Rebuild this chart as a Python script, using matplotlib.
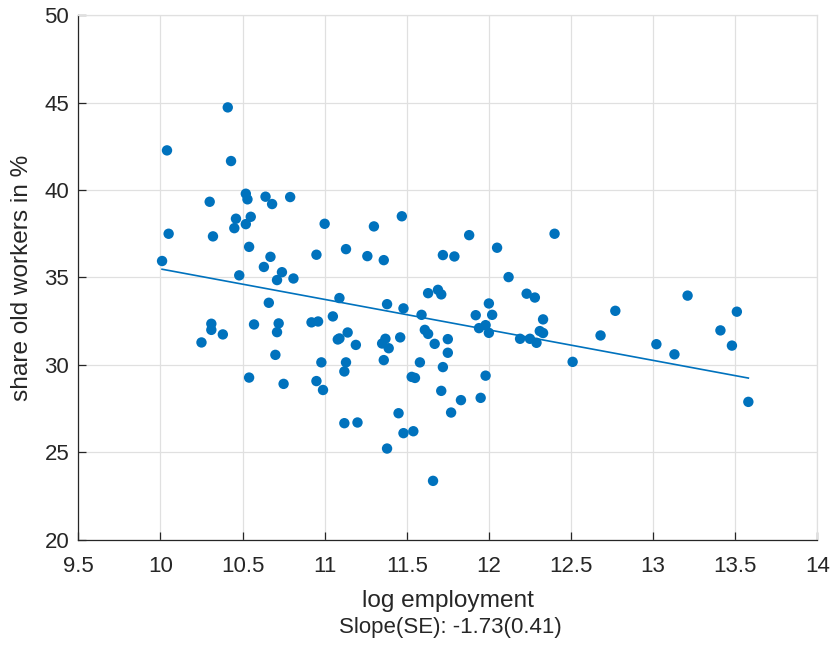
#!/usr/bin/env python3
"""Scatter of share of old workers vs log employment, with OLS fit line."""

import matplotlib
matplotlib.use("Agg")
import matplotlib.pyplot as plt
import numpy as np

# data
log_employment = [
    10.01, 10.04, 10.05, 10.25, 10.30, 10.32, 10.31, 10.31, 10.38, 10.41,
    10.43, 10.46, 10.45, 10.48, 10.52, 10.53, 10.52, 10.55, 10.54, 10.54,
    10.57, 10.63, 10.64, 10.66, 10.67, 10.68, 10.70, 10.71, 10.72, 10.71,
    10.74, 10.75, 10.81, 10.79, 10.92, 10.96, 10.95, 10.95, 10.98, 10.99,
    11.00, 11.05, 11.08, 11.09, 11.09, 11.13, 11.14, 11.13, 11.12, 11.12,
    11.19, 11.20, 11.26, 11.30, 11.36, 11.35, 11.37, 11.36, 11.38, 11.39,
    11.38, 11.45, 11.46, 11.47, 11.48, 11.48, 11.53, 11.55, 11.54, 11.58,
    11.59, 11.61, 11.63, 11.63, 11.66, 11.67, 11.69, 11.71, 11.71, 11.72,
    11.72, 11.75, 11.75, 11.77, 11.79, 11.83, 11.88, 11.92, 11.94, 11.95,
    11.98, 11.98, 12.00, 12.00, 12.02, 12.05, 12.12, 12.19, 12.23, 12.25,
    12.28, 12.29, 12.31, 12.33, 12.33, 12.40, 12.51, 12.68, 12.77, 13.02,
    13.13, 13.21, 13.41, 13.48, 13.51, 13.58,
]
share_old = [
    35.94, 42.27, 37.50, 31.28, 39.33, 37.35, 32.35, 32.00, 31.74, 44.73,
    41.66, 38.36, 37.82, 35.12, 39.79, 39.47, 38.05, 38.47, 36.75, 29.27,
    32.31, 35.60, 39.62, 33.55, 36.18, 39.20, 30.57, 34.85, 32.37, 31.87,
    35.30, 28.91, 34.94, 39.60, 32.43, 32.48, 36.30, 29.07, 30.14, 28.56,
    38.07, 32.77, 31.45, 33.82, 31.51, 36.62, 31.85, 30.14, 29.62, 26.66,
    31.14, 26.70, 36.22, 37.92, 35.99, 31.22, 31.49, 30.27, 33.47, 30.95,
    25.21, 27.23, 31.57, 38.50, 33.23, 26.09, 29.31, 29.25, 26.20, 30.14,
    32.86, 32.00, 31.77, 34.10, 23.36, 31.20, 34.29, 34.03, 28.51, 36.28,
    29.87, 31.47, 30.69, 27.27, 36.20, 27.98, 37.42, 32.84, 32.10, 28.11,
    32.27, 29.38, 33.51, 31.83, 32.86, 36.70, 35.02, 31.49, 34.07, 31.49,
    33.85, 31.26, 31.93, 31.82, 32.60, 37.50, 30.17, 31.68, 33.09, 31.18,
    30.60, 33.96, 31.97, 31.10, 33.04, 27.88,
]
slope_label = "Slope(SE): -1.73(0.41)"

x_ticks = [9.5, 10, 10.5, 11, 11.5, 12, 12.5, 13, 13.5, 14]
y_ticks = [20, 25, 30, 35, 40, 45, 50]

BLUE = "#0072BD"
TEXT = "#262626"
GRID = "#e0e0e0"

plt.rcParams['font.family'] = ['Liberation Sans', 'DejaVu Sans']

fig = plt.figure(figsize=(8.34, 6.48), dpi=100)
ax = fig.add_axes([0.0939, 0.1673, 0.8861, 0.8091])

x = np.array(log_employment)
y = np.array(share_old)

ax.scatter(x, y, s=56, color=BLUE, edgecolors='none', zorder=3)

# OLS fit over the data range
b, a = np.polyfit(x, y, 1)
xs = np.array([x.min(), x.max()])
ax.plot(xs, a + b * xs, color=BLUE, linewidth=1.2, zorder=3)

ax.set_xlim(9.5, 14)
ax.set_ylim(20, 50)
ax.set_xticks(x_ticks)
ax.set_xticklabels([f"{t:g}" for t in x_ticks])
ax.set_yticks(y_ticks)

ax.grid(True, color=GRID, linewidth=0.9)
ax.set_axisbelow(True)

for side in ['top', 'right']:
    ax.spines[side].set_color(GRID)
    ax.spines[side].set_linewidth(0.9)
for side in ['left', 'bottom']:
    ax.spines[side].set_color(TEXT)
    ax.spines[side].set_linewidth(0.9)

ax.tick_params(direction='in', length=6, width=0.9, colors=TEXT,
               labelsize=16)
ax.tick_params(axis='x', pad=11.5)
ax.tick_params(axis='y', pad=6.5)

ax.set_xlabel("log employment", fontsize=17.6, color=TEXT, labelpad=10)
ax.set_ylabel("share old workers in %", fontsize=17.6, color=TEXT, labelpad=8)

fig.text(450 / 834, 1 - 628 / 648, slope_label, fontsize=16, color=TEXT,
         ha='center', va='center')

fig.savefig("out.png", dpi=100)
